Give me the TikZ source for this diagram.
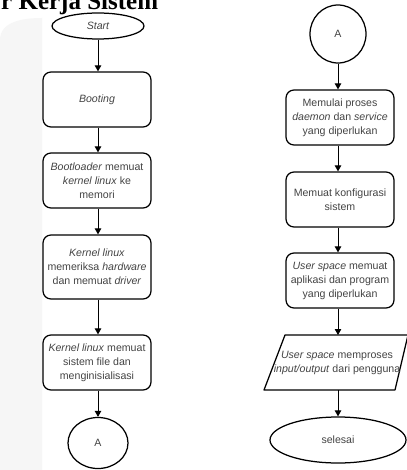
\documentclass[tikz,border=0pt]{standalone}
\usepackage{fontspec}
\setmainfont{Liberation Sans}
\newfontfamily\titlefont{Liberation Serif}
\usetikzlibrary{arrows.meta,shapes.geometric}
\definecolor{txt}{HTML}{444444}
\definecolor{bgl}{HTML}{F6F6F6}
\begin{document}
\begin{tikzpicture}[x=1pt,y=-1pt,
  lbl/.style={text=txt,font=\fontsize{10.6}{14}\selectfont,align=center,inner sep=0pt},
  box/.style={lbl,draw=black,line width=1.25pt,rounded corners=8pt,minimum width=108pt,minimum height=55pt},
  term/.style={lbl,draw=black,line width=1.25pt,ellipse,inner sep=0pt},
  conn/.style={line width=0.9pt,-{Triangle[length=6pt,width=6.5pt]}}]
\useasboundingbox (0,0) rectangle (406,470);
\fill[white] (0,0) rectangle (406,470);
\fill[bgl] (0,470) -- (0,40) to[out=90,in=180] (42,18) -- (42,470) -- cycle;
\node[anchor=base west,inner sep=0pt,font=\titlefont\bfseries\fontsize{25}{25}\selectfont] (title) at (1,10) {r Kerja Sistem};
% left column
\node[term,minimum width=92pt,minimum height=26pt] (start) at (98,26) {\itshape Start};
\node[box] (boot) at (97,99.5) {\itshape Booting};
\node[box] (bl) at (97,180.5) {\textit{Bootloader} memuat\\\textit{kernel linux} ke\\memori};
\node[box,minimum height=64pt] (kc) at (97,267) {\textit{Kernel linux}\\memeriksa \textit{hardware}\\dan memuat \textit{driver}};
\node[box] (km) at (97,362.5) {\textit{Kernel linux} memuat\\sistem file dan\\menginisialisasi};
\node[term,minimum width=60pt,minimum height=51pt] (a1) at (98,443) {A};
\draw[conn] (start) -- (boot.north -| start);
\draw[conn] (boot.south -| start) -- (bl.north -| start);
\draw[conn] (bl.south -| start) -- (kc.north -| start);
\draw[conn] (kc.south -| start) -- (km.north -| start);
\draw[conn] (km.south -| start) -- (a1);
% right column
\node[term,minimum width=56pt,minimum height=58pt] (a2) at (338,34) {A};
\node[box] (dm) at (340,117.5) {Memulai proses\\\textit{daemon} dan \textit{service}\\yang diperlukan};
\node[box] (kf) at (340,199.5) {Memuat konfigurasi\\sistem};
\node[box] (us) at (340,280.5) {\textit{User space} memuat\\aplikasi dan program\\yang diperlukan};
\coordinate (p1) at (285,335);
\coordinate (p2) at (408,335);
\coordinate (p3) at (395,390);
\coordinate (p4) at (264,390);
\draw[line width=1.25pt,line join=round] (p1) -- (p2) -- (p3) -- (p4) -- cycle;
\node[lbl] (io) at (337,362.5) {\textit{User space} memproses\\\textit{input/output} dari pengguna};
\coordinate (iotop) at (338,335);
\coordinate (iobot) at (338,390);
\node[term,minimum width=136pt,minimum height=46pt] (end) at (338,440) {selesai};
\draw[conn] (a2) -- (dm.north -| a2);
\draw[conn] (dm.south -| a2) -- (kf.north -| a2);
\draw[conn] (kf.south -| a2) -- (us.north -| a2);
\draw[conn] (us.south -| a2) -- (iotop);
\draw[conn] (iobot) -- (end);
\end{tikzpicture}
\end{document}
